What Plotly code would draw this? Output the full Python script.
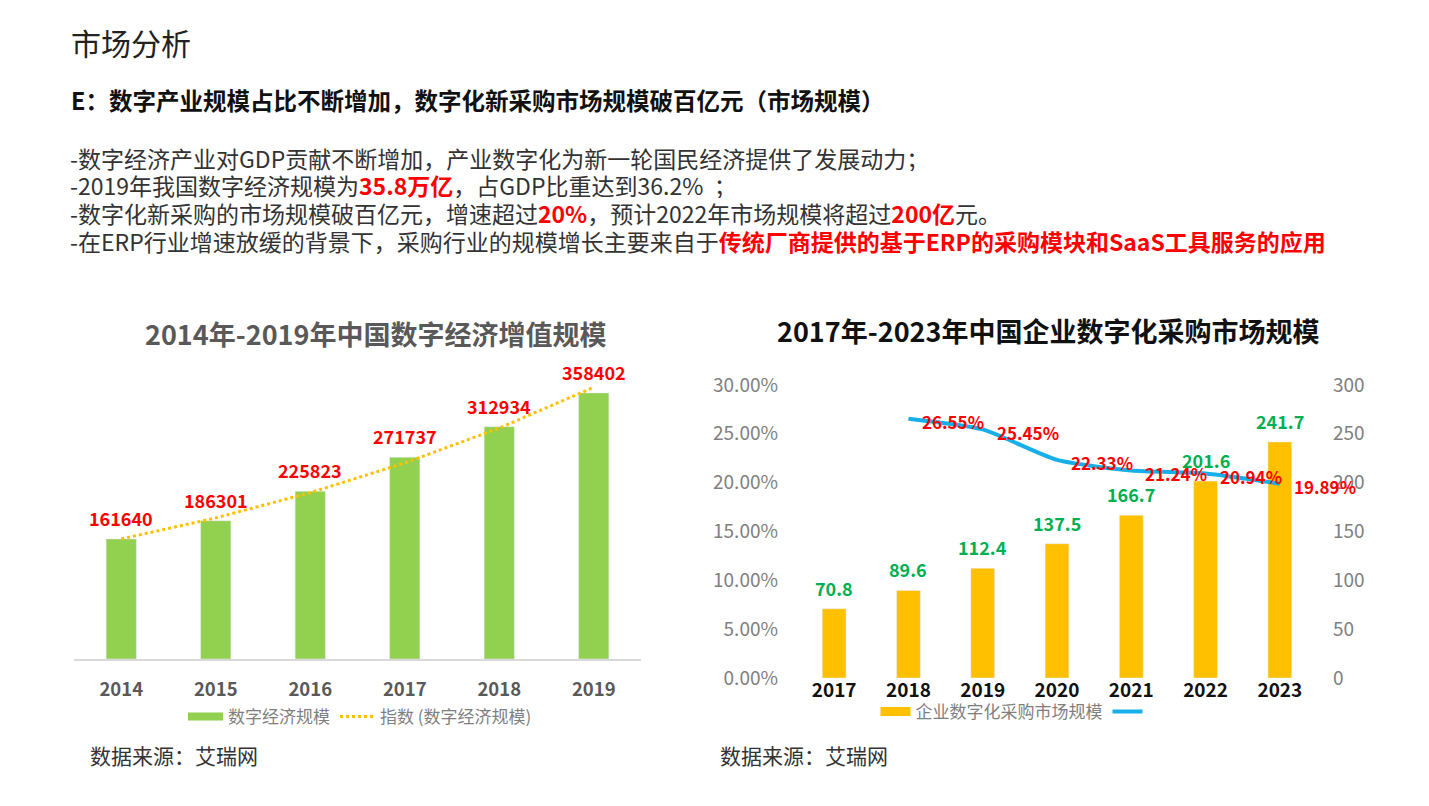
import plotly.graph_objects as go

W, H = 1429, 806
FONT = "Noto Sans CJK SC"
OFF = 8  # page body margin

# ---- Left chart data ----
years_l = ["2014", "2015", "2016", "2017", "2018", "2019"]
digital_econ = [161640, 186301, 225823, 271737, 312934, 358402]
trend_econ = [161700, 190000, 224000, 264000, 311000, 366000]  # exponential trendline

# ---- Right chart data ----
years_r = ["2017", "2018", "2019", "2020", "2021", "2022", "2023"]
proc_market = [70.8, 89.6, 112.4, 137.5, 166.7, 201.6, 241.7]
growth_years = ["2018", "2019", "2020", "2021", "2022", "2023"]
growth_rate = [0.2655, 0.2545, 0.2233, 0.2124, 0.2094, 0.1989]
growth_labels = ["26.55%", "25.45%", "22.33%", "21.24%", "20.94%", "19.89%"]

GREEN = "#92D050"
ORANGE = "#FFC000"
BLUE = "#17AFEA"
RED = "#FF0000"
LBLGREEN = "#00B050"


def px(x):
    return (x - OFF) / W


def py(y):
    return 1 - (y - OFF) / H


fig = go.Figure()

# Left chart
fig.add_trace(go.Bar(x=years_l, y=digital_econ, marker_color=GREEN, width=0.32,
                     xaxis="x", yaxis="y", showlegend=False))
fig.add_trace(go.Scatter(x=years_l, y=trend_econ, mode="lines",
                         line=dict(color=ORANGE, width=3, dash="dot"),
                         xaxis="x", yaxis="y", showlegend=False))
# legend entries (left)
fig.add_trace(go.Scatter(x=[years_l[0]], y=[None], mode="lines", name="数字经济规模",
                         line=dict(color=GREEN, width=8), xaxis="x", yaxis="y", legend="legend"))
fig.add_trace(go.Scatter(x=[years_l[0]], y=[None], mode="lines", name="指数 (数字经济规模)",
                         line=dict(color=ORANGE, width=3, dash="dot"), xaxis="x", yaxis="y",
                         legend="legend"))

# Right chart
fig.add_trace(go.Bar(x=years_r, y=proc_market, marker_color=ORANGE, width=0.32,
                     xaxis="x2", yaxis="y2", showlegend=False))
fig.add_trace(go.Scatter(x=growth_years, y=growth_rate, mode="lines",
                         line=dict(color=BLUE, width=4, shape="spline", smoothing=0.6),
                         xaxis="x2", yaxis="y3", showlegend=False))
fig.add_trace(go.Scatter(x=[years_r[0]], y=[None], mode="lines", name="企业数字化采购市场规模",
                         line=dict(color=ORANGE, width=9), xaxis="x2", yaxis="y2", legend="legend2"))
fig.add_trace(go.Scatter(x=[years_r[0]], y=[None], mode="lines", name=" ",
                         line=dict(color=BLUE, width=4), xaxis="x2", yaxis="y2", legend="legend2"))

annotations = []
# Left bar labels (category index positions)
for i, v in enumerate(digital_econ):
    annotations.append(dict(x=i, y=v, xref="x", yref="y", text=f"<b>{v}</b>", showarrow=False,
                            xanchor="center", yanchor="middle", yshift=21,
                            font=dict(color=RED, size=18, family=FONT)))
# Right bar labels
for i, v in enumerate(proc_market):
    annotations.append(dict(x=i, y=v, xref="x2", yref="y2", text=f"<b>{v}</b>", showarrow=False,
                            xanchor="center", yanchor="middle", yshift=21,
                            font=dict(color=LBLGREEN, size=18, family=FONT)))
# Line labels
for yr, v, t in zip(growth_years, growth_rate, growth_labels):
    i = years_r.index(yr)
    annotations.append(dict(x=i, y=v, xref="x2", yref="y3", text=f"<b>{t}</b>", showarrow=False,
                            xanchor="left", yanchor="middle", xshift=12, yshift=-3,
                            font=dict(color=RED, size=17, family=FONT)))


def ptext(x, y, text, size, color, xanchor="left", height=None):
    annotations.append(dict(x=px(x), y=py(y), xref="paper", yref="paper", xanchor=xanchor,
                            yanchor="middle", text=text, showarrow=False, height=height,
                            font=dict(color=color, size=size, family=FONT)))


# Titles
ptext(375, 333, "<b>2014年-2019年中国数字经济增值规模</b>", 27, "#595959", "center")
ptext(1048, 330, "<b>2017年-2023年中国企业数字化采购市场规模</b>", 27, "#111111", "center")
# Sources
ptext(88, 755, "数据来源：艾瑞网", 21, "#333333")
ptext(718, 755, "数据来源：艾瑞网", 21, "#333333")

# Top text
ptext(69, 42, "市场分析", 30, "#222222")
ptext(69, 100, "<b>E：数字产业规模占比不断增加，数字化新采购市场规模破百亿元（市场规模）</b>", 23.5, "#111111")

red = lambda s: f"<span style='color:{RED}'><b>{s}</b></span>"
lines = [
    "-数字经济产业对GDP贡献不断增加，产业数字化为新一轮国民经济提供了发展动力；",
    f"-2019年我国数字经济规模为{red('35.8万亿')}，占GDP比重达到36.2%  ；",
    f"-数字化新采购的市场规模破百亿元，增速超过{red('20%')}，预计2022年市场规模将超过{red('200亿')}元。",
    f"-在ERP行业增速放缓的背景下，采购行业的规模增长主要来自于{red('传统厂商提供的基于ERP的采购模块和SaaS工具服务的应用')}",
]
for i, t in enumerate(lines):
    ptext(68, 157 + i * 27.8, t, 23, "#333333", height=27)

fig.update_layout(
    width=W, height=H, autosize=False,
    margin=dict(l=0, r=0, t=0, b=0, pad=0, autoexpand=False),
    paper_bgcolor="white", plot_bgcolor="white",
    font=dict(family=FONT),
    hovermode=False,
    xaxis=dict(domain=[px(74), px(641)], type="category", categoryorder="array",
               categoryarray=years_l, range=[-0.5, 5.5], showgrid=False, showline=True,
               linecolor="#D9D9D9", linewidth=1.5, ticks="", ticklabelstandoff=13,
               tickfont=dict(color="#595959", size=18.5, family=FONT, weight="bold"),
               anchor="y", fixedrange=True, automargin=False),
    yaxis=dict(domain=[py(659), py(362)], range=[0, 400000], visible=False, anchor="x",
               fixedrange=True, automargin=False),
    xaxis2=dict(domain=[px(797), px(1317)], type="category", categoryorder="array",
                categoryarray=years_r, range=[-0.5, 6.5], showgrid=False, showline=False,
                ticks="", ticklabelstandoff=-1, zeroline=False,
                tickfont=dict(color="#111111", size=19, family=FONT, weight="bold"),
                anchor="y2", fixedrange=True, automargin=False),
    yaxis2=dict(domain=[py(678), py(385)], range=[0, 300], dtick=50, side="right",
                showgrid=False, zeroline=False, showline=False, anchor="x2",
                ticklabelstandoff=15, automargin=False,
                tickfont=dict(color="#808080", size=19, family=FONT), fixedrange=True),
    yaxis3=dict(range=[0, 0.30], dtick=0.05, tickformat=".2%", side="left", overlaying="y2",
                showgrid=False, zeroline=False, showline=False, anchor="x2",
                ticklabelstandoff=18, automargin=False,
                tickfont=dict(color="#808080", size=19, family=FONT), fixedrange=True),
    legend=dict(orientation="h", x=px(360), y=py(717), xanchor="center", yanchor="middle",
                font=dict(color="#7F7F7F", size=17, family=FONT), itemwidth=35,
                bgcolor="rgba(0,0,0,0)"),
    legend2=dict(orientation="h", x=px(1016), y=py(712), xanchor="center", yanchor="middle",
                 font=dict(color="#7F7F7F", size=17, family=FONT), itemwidth=30,
                 bgcolor="rgba(0,0,0,0)"),
    annotations=annotations,
)

fig.write_html("out.html")
